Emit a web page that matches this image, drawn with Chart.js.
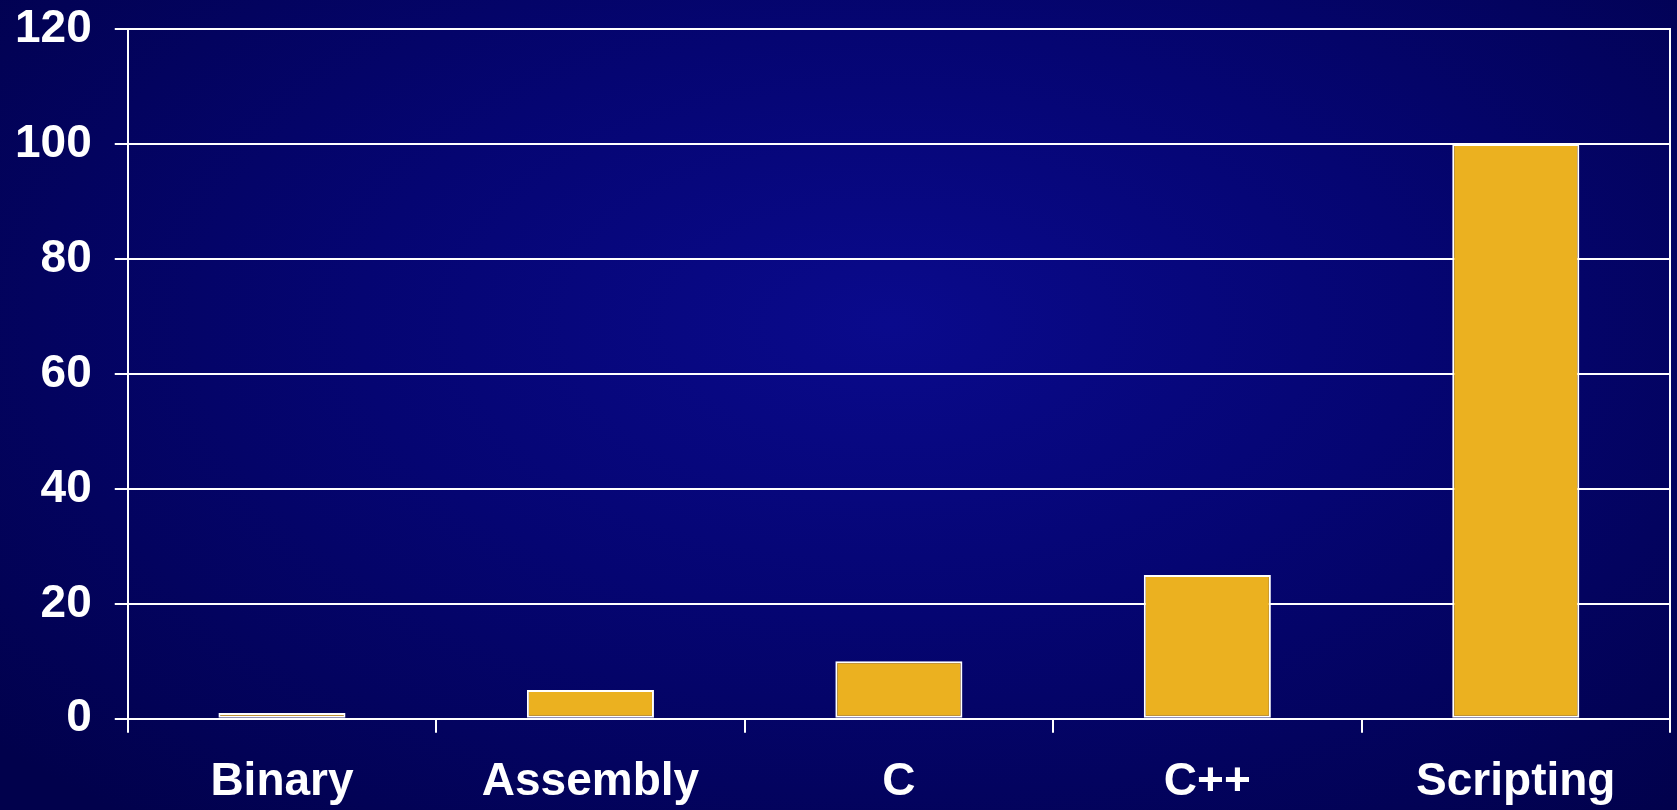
<!DOCTYPE html>
<html>
<head>
<meta charset="utf-8">
<script src="https://cdn.jsdelivr.net/npm/chart.js@4"></script>
<style>
html,body{margin:0;padding:0;width:1677px;height:810px;overflow:hidden;
background:radial-gradient(ellipse 70% 80% at 53% 40%, #0a0a8c 0%, #050572 45%, #01014c 100%);}
#wrap{position:absolute;left:0;top:0;width:1677px;height:810px;}
</style>
</head>
<body>
<div id="wrap"><canvas id="c"></canvas></div>
<script>
const categories = ["Binary", "Assembly", "C", "C++", "Scripting"];
const values = [1, 5, 10, 25, 100];
const yTicks = [0, 20, 40, 60, 80, 100, 120];

const FONT = "'Liberation Sans', Arial, sans-serif";
Chart.defaults.font.family = FONT;

new Chart(document.getElementById('c'), {
  type: 'bar',
  data: {
    labels: categories,
    datasets: [{
      data: values,
      backgroundColor: '#EBB120',
      borderColor: '#ffffff',
      borderWidth: 2,
      borderSkipped: false,
      categoryPercentage: 1,
      barPercentage: 0.412
    }]
  },
  options: {
    responsive: true,
    maintainAspectRatio: false,
    animation: false,
    devicePixelRatio: 1,
    layout: { padding: { top: 29, right: 7, bottom: 0, left: 0 } },
    plugins: { legend: { display: false }, tooltip: { enabled: false } },
    scales: {
      x: {
        grid: { offset: true, drawOnChartArea: false, color: '#ffffff', lineWidth: 2, tickLength: 14 },
        border: { color: '#ffffff', width: 2 },
        ticks: { color: '#ffffff', font: { size: 46, weight: 'bold' }, padding: 22, maxRotation: 0 },
        afterFit: (axis) => { axis.height -= 22; axis.paddingLeft = 0; axis.paddingRight = 0; }
      },
      y: {
        min: 0, max: 120,
        afterBuildTicks: (axis) => { axis.ticks = yTicks.map(v => ({ value: v })); },
        grid: { color: '#ffffff', lineWidth: 2, tickLength: 13 },
        border: { color: '#ffffff', width: 2 },
        ticks: { color: '#ffffff', font: { size: 46, weight: 'bold' }, padding: 23 },
        afterFit: (axis) => { axis.width -= 8; axis.paddingTop = 0; axis.paddingBottom = 0; }
      },
      y2: {
        position: 'right',
        min: 0, max: 120,
        grid: { display: false, drawTicks: false },
        border: { color: '#ffffff', width: 2 },
        ticks: { display: false },
        afterFit: (axis) => { axis.paddingTop = 0; axis.paddingBottom = 0; }
      }
    }
  }
});
</script>
</body>
</html>
